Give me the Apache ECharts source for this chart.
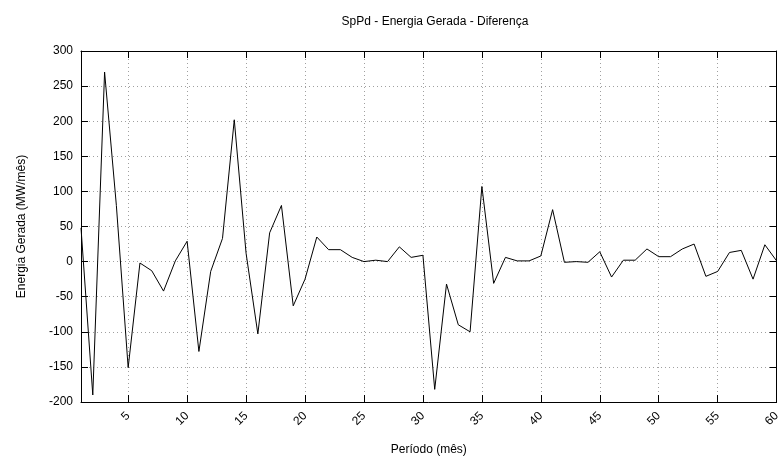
<!DOCTYPE html>
<html>
<head>
<meta charset="utf-8">
<script src="https://cdn.jsdelivr.net/npm/echarts@6/dist/echarts.min.js"></script>
<style>
html,body{margin:0;padding:0;background:#fff;}
#chart{width:783px;height:465px;}
</style>
</head>
<body>
<div id="chart"></div>
<script>
const months = [1,2,3,4,5,6,7,8,9,10,11,12,13,14,15,16,17,18,19,20,21,22,23,24,25,26,27,28,29,30,31,32,33,34,35,36,37,38,39,40,41,42,43,44,45,46,47,48,49,50,51,52,53,54,55,56,57,58,59,60];
const diff = [48,-190,270,80,-151,-2,-13,-42,1,29,-128,-14,33,202,12,-103,41,80,-63,-25,35,17,17,6,0,2,0,21,6,9,-182,-32,-90,-100,107,-31,6,1,1,8,74,-1,0,-1,14,-22,2,2,18,7,7,18,25,-21,-14,13,16,-25,24,1];
const xTicks = [5,10,15,20,25,30,35,40,45,50,55,60];
const titleText = 'SpPd - Energia Gerada - Diferença';
const xName = 'Período (mês)';
const yName = 'Energia Gerada (MW/mês)';

const font = 'Liberation Sans, Arial, Helvetica, sans-serif';
const chart = echarts.init(document.getElementById('chart'), null, {renderer:'canvas'});
const gridStyle = {show:true, lineStyle:{color:'#a0a0a0', width:1, type:[1,3]}};
const tickStyle = {inside:true, length:7, lineStyle:{color:'#000', width:1}};
const lineStyle = {show:true, onZero:false, lineStyle:{color:'#000', width:1}};
chart.setOption({
  animation:false,
  backgroundColor:'#fff',
  title:{text:titleText, left:430, top:11, textAlign:'center',
    textStyle:{fontFamily:font, fontSize:12, fontWeight:'normal', color:'#000'}},
  grid:{left:81, right:5, top:51, bottom:63, containLabel:false},
  xAxis:[{
    type:'value', min:1, max:60, position:'bottom',
    name:xName, nameLocation:'middle', nameGap:42,
    nameTextStyle:{fontFamily:font, fontSize:12, color:'#000'},
    axisLine:lineStyle,
    axisTick:Object.assign({customValues:xTicks}, tickStyle),
    axisLabel:{customValues:xTicks, rotate:45, margin:12, fontFamily:font, fontSize:12, color:'#000'},
    splitLine:gridStyle
  },{
    type:'value', min:1, max:60, position:'top',
    axisLine:lineStyle,
    axisTick:Object.assign({customValues:xTicks}, tickStyle),
    axisLabel:{show:false},
    splitLine:{show:false}
  }],
  yAxis:[{
    type:'value', min:-200, max:300, interval:50, position:'left',
    name:yName, nameLocation:'middle', nameGap:53,
    nameTextStyle:{fontFamily:font, fontSize:12, color:'#000'},
    axisLine:lineStyle,
    axisTick:tickStyle,
    axisLabel:{margin:8, fontFamily:font, fontSize:12, color:'#000'},
    splitLine:gridStyle
  },{
    type:'value', min:-200, max:300, interval:50, position:'right',
    axisLine:lineStyle,
    axisTick:tickStyle,
    axisLabel:{show:false},
    splitLine:{show:false}
  }],
  series:[{
    type:'line',
    data:months.map((m,i)=>[m, diff[i]]),
    showSymbol:false,
    symbol:'none',
    lineStyle:{color:'#000', width:1},
    itemStyle:{color:'#000'}
  }]
});
</script>
</body>
</html>
